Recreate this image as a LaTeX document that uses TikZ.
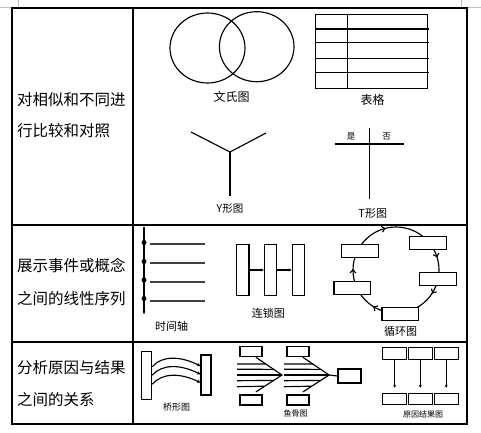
\documentclass[tikz,border=0pt]{standalone}
\usepackage{fontspec}
\setmainfont{Noto Sans CJK SC}
\usetikzlibrary{arrows.meta,decorations.markings,calc}
\begin{document}
\begin{tikzpicture}[x=1pt,y=-1pt,
  grid/.style={line width=1.5pt},
  ln/.style={line width=1.15pt},
  bx/.style={draw, line width=1.1pt, fill=white, inner sep=0pt},
  dot/.style={circle, fill=black, inner sep=0pt, minimum size=5pt},
  lefttxt/.style={anchor=west, inner sep=0pt, font=\fontsize{15.5}{18}\selectfont},
  lab/.style={inner sep=0pt, font=\fontsize{#1}{#1}\selectfont},
  tip/.style={-{Stealth[length=3.5pt,width=3.5pt]}}
]
\useasboundingbox (0,0) rectangle (481,432);
% page corner marks
\draw[black!25, line width=0.8pt] (0,7) -- (18,7) -- (18,0);
\draw[black!25, line width=0.8pt] (461,0) -- (461,7) -- (481,7);
% table
\draw[grid] (12,8) rectangle (467,424);
\draw[grid] (133,8) -- (133,424);
\draw[grid] (12,225) -- (467,225);
\draw[grid] (12,342) -- (467,342);
% left column
\node[lefttxt] (l1a) at (17,100) {对相似和不同进};
\node[lefttxt] (l1b) at (17,131) {行比较和对照};
\node[lefttxt] (l2a) at (17,265) {展示事件或概念};
\node[lefttxt] (l2b) at (17,298.5) {之间的线性序列};
\node[lefttxt] (l3a) at (17,368) {分析原因与结果};
\node[lefttxt] (l3b) at (17,400) {之间的关系};
% Venn
\draw[ln] (207.5,48) ellipse [x radius=37.5, y radius=35];
\draw[ln] (256.7,46.7) ellipse [x radius=37.3, y radius=35];
\node[lab=12] (venn) at (231.7,97) {文氏图};
% table icon
\draw[ln] (315.3,14.3) rectangle (427.7,88.3);
\draw[ln] (347.3,14.3) -- (347.3,88.3);
\foreach \y in {29,42.7,58.3,72.7} \draw[ln] (315.3,\y) -- (429,\y);
\node[lab=12] (tbl) at (372.7,100) {表格};
% Y shape
\coordinate (yc) at (230,152);
\coordinate (yl) at (191,132);
\coordinate (yr) at (266,133);
\coordinate (yb) at (230,196);
\draw[ln] (yl) -- (yc) -- (yr);
\draw[ln] (yc) -- (yb);
\node[lab=10.5] (ylab) at (230,209) {Y形图};
% T shape
\coordinate (th1) at (335,144);
\coordinate (th2) at (404,144);
\coordinate (tv1) at (369.3,128);
\coordinate (tv2) at (369.3,199.3);
\draw[ln] (th1) -- (th2);
\draw[ln] (tv1) -- (tv2);
\node[lab=8.5] (yes) at (351,136.5) {是};
\node[lab=8.5] (no) at (386.7,136.5) {否};
\node[lab=11] (tlab) at (372.7,213) {T形图};
% timeline
\coordinate (tlTop) at (144,227);
\coordinate (tlBot) at (144,314);
\draw[ln, -{Stealth[length=3pt,width=3pt]}] (tlTop) -- (tlBot);
\foreach \i/\y in {1/242.5,2/261.5,3/280,4/298.5} \node[dot] (td\i) at (144,\y) {};
\foreach \y in {244,263,282,301} \draw[ln, black!75] (150,\y) -- (205,\y);
\node[lab=11] (tllab) at (171.7,326) {时间轴};
% chain
\node[bx, minimum width=12.3, minimum height=51.7] (ch1) at (242.8,270) {};
\node[bx, minimum width=12.3, minimum height=51.7] (ch2) at (270.5,270) {};
\node[bx, minimum width=12.3, minimum height=51.7] (ch3) at (298.3,270) {};
\draw[ln, -{Stealth[length=3pt,width=3pt]}] (ch1.east) -- (ch2.west);
\draw[ln, -{Stealth[length=3pt,width=3pt]}] (ch2.east) -- (ch3.west);
\node[lab=11] (chlab) at (268.3,313.3) {连锁图};
% cycle
\draw[ln, decoration={markings,
   mark=at position 0.092 with {\arrow{Straight Barb[length=3pt,width=6pt]}},
   mark=at position 0.339 with {\arrow{Straight Barb[length=3pt,width=6pt]}},
   mark=at position 0.503 with {\arrow{Straight Barb[length=3pt,width=6pt]}},
   mark=at position 0.711 with {\arrow{Straight Barb[length=3pt,width=6pt]}},
   mark=at position 0.953 with {\arrow{Straight Barb[length=3pt,width=6pt]}}},
   postaction={decorate}]
   (396,270) ++(0:43) arc[start angle=0, end angle=360, radius=43];
\node[bx, minimum width=36.7, minimum height=12.7] (cyA) at (360,250.8) {};
\node[bx, minimum width=36.7, minimum height=12.7] (cyB) at (427.7,242.8) {};
\node[bx, minimum width=36.7, minimum height=12.7] (cyC) at (437.7,278.7) {};
\node[bx, minimum width=36.7, minimum height=12.7] (cyD) at (400.3,314.2) {};
\node[bx, minimum width=36.7, minimum height=12.7] (cyE) at (352.3,288) {};
\node[lab=11] (cylab) at (400.5,331) {循环图};
% bridge
\node[bx, minimum width=10, minimum height=48.3] (br1) at (146.7,375.2) {};
\node[bx, minimum width=10, minimum height=40] (br2) at (206,375) {};
\foreach \s/\e in {8.5/9, 0/0.7, -9/-7.7}
  \draw[ln, tip] ([yshift=\s pt]br1.east) .. controls +(10,-11.5) and +(-20,-10) .. ([yshift=\e pt]br2.west);
\node[lab=9] (brlab) at (176.7,406.7) {桥形图};
% fishbone
\foreach \dx/\k in {0/1,47/2} {
  \node[bx, minimum width=22, minimum height=10] (fbT\k) at (251+\dx,351.7) {};
  \node[bx, minimum width=22, minimum height=10] (fbB\k) at (251+\dx,400) {};
  \coordinate (fa\k) at (282+\dx,375);
  \coordinate (fs\k) at ([xshift=-6.7pt]fbT\k.south east);
  \coordinate (fe\k) at ([xshift=-6.7pt,yshift=2.5pt]fbB\k.north east);
  \draw[ln] (fs\k) -- (fa\k) -- (fe\k);
  \draw[ln] (237+\dx,375) -- (fa\k);
  \draw[ln] (237+\dx,364) -- ($(fs\k)!0.38!(fa\k)$);
  \draw[ln] (237+\dx,369.3) -- ($(fs\k)!0.68!(fa\k)$);
  \draw[ln] (237+\dx,380.7) -- ($(fa\k)!0.32!(fe\k)$);
  \draw[ln] (237+\dx,386.7) -- ($(fa\k)!0.66!(fe\k)$);
}
\node[bx, minimum width=23, minimum height=14] (fbH) at (349.5,376) {};
\draw[ln] (fa2) -- (fbH.west);
\node[lab=8] (fblab) at (295.7,413.5) {鱼骨图};
% cause-effect
\foreach \i/\x in {1/394.7,2/420.3,3/446.2} {
  \node[bx, minimum width=24, minimum height=11.6] (ceT\i) at (\x,353.5) {};
  \node[bx, minimum width=24, minimum height=10.7] (ceB\i) at (\x,398.7) {};
  \draw[ln, -{Stealth[length=3pt,width=3pt]}] (ceT\i.south) -- ([yshift=5pt]ceB\i.north);
}
\node[lab=8] (celab) at (423,414) {原因结果图};
\end{tikzpicture}
\end{document}
